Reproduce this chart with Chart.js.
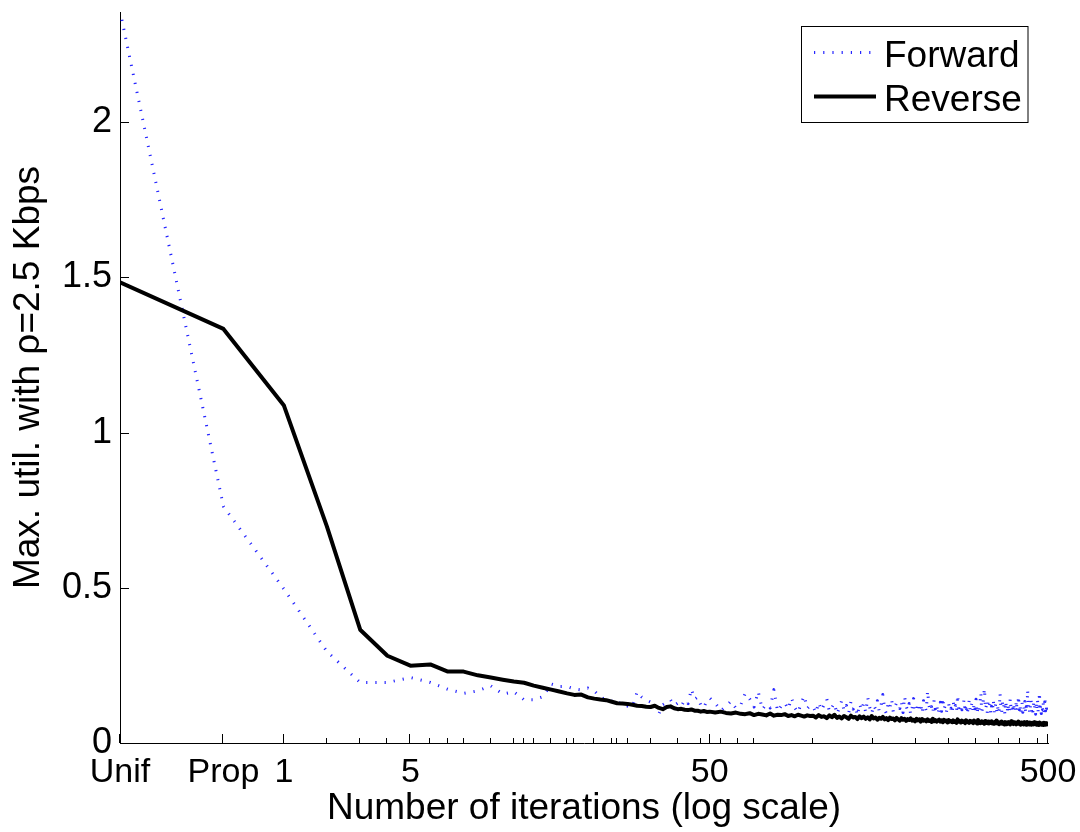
<!DOCTYPE html>
<html>
<head>
<meta charset="utf-8">
<script src="https://cdn.jsdelivr.net/npm/chart.js@4/dist/chart.umd.min.js"></script>
<style>
  html, body { margin: 0; padding: 0; background: #fff; }
  canvas { display: block; }
</style>
</head>
<body>
<canvas id="utilChart" width="1080" height="832"></canvas>
<script>
// Iteration index: -1 = uniform start, 0 = proportional start
const iterations = [
  -1, 0,
  1, 2, 3, 4, 5, 6, 7, 8, 9, 10,
  11, 12, 13, 14, 15, 16, 17, 18, 19, 20,
  21, 22, 23, 24, 25, 26, 27, 28, 29, 30,
  31, 32, 33, 34, 35, 36, 37, 38, 39, 40,
  41, 42, 43, 44, 45, 46, 47, 48, 49, 50,
  52, 54, 56, 58, 60, 62, 64, 66, 68, 70,
  72, 74, 76, 78, 80, 82, 84, 86, 88, 90,
  92, 94, 96, 98, 100,
  102, 104, 106, 108, 110, 112, 114, 116, 118, 120,
  122, 124, 126, 128, 130, 132, 134, 136, 138, 140,
  142, 144, 146, 148, 150, 152, 154, 156, 158, 160,
  162, 164, 166, 168, 170, 172, 174, 176, 178, 180,
  182, 184, 186, 188, 190, 192, 194, 196, 198, 200,
  202, 204, 206, 208, 210, 212, 214, 216, 218, 220,
  222, 224, 226, 228, 230, 232, 234, 236, 238, 240,
  242, 244, 246, 248, 250, 252, 254, 256, 258, 260,
  262, 264, 266, 268, 270, 272, 274, 276, 278, 280,
  282, 284, 286, 288, 290, 292, 294, 296, 298, 300,
  302, 304, 306, 308, 310, 312, 314, 316, 318, 320,
  322, 324, 326, 328, 330, 332, 334, 336, 338, 340,
  342, 344, 346, 348, 350, 352, 354, 356, 358, 360,
  362, 364, 366, 368, 370, 372, 374, 376, 378, 380,
  382, 384, 386, 388, 390, 392, 394, 396, 398, 400,
  402, 404, 406, 408, 410, 412, 414, 416, 418, 420,
  422, 424, 426, 428, 430, 432, 434, 436, 438, 440,
  442, 444, 446, 448, 450, 452, 454, 456, 458, 460,
  462, 464, 466, 468, 470, 472, 474, 476, 478, 480,
  482, 484, 486, 488, 490, 492, 494, 496, 498, 500
];

const forward = [
  2.359, 0.762,
  0.496, 0.295, 0.195, 0.195, 0.211, 0.195, 0.173, 0.160, 0.168, 0.184,
  0.158, 0.165, 0.139, 0.139, 0.149, 0.190, 0.182, 0.182, 0.174, 0.171,
  0.177, 0.168, 0.148, 0.139, 0.135, 0.126, 0.132, 0.119, 0.116, 0.165,
  0.148, 0.139, 0.132, 0.129, 0.094, 0.123, 0.131, 0.139, 0.121, 0.129,
  0.118, 0.139, 0.127, 0.174, 0.141, 0.148, 0.122, 0.113, 0.136, 0.145,
  0.128, 0.104, 0.118, 0.135, 0.112, 0.121, 0.160, 0.142, 0.116, 0.166,
  0.108, 0.125, 0.113, 0.172, 0.102, 0.119, 0.130, 0.109, 0.145, 0.114,
  0.098, 0.127, 0.152, 0.111, 0.121,
  0.118, 0.097, 0.131, 0.105, 0.124, 0.142, 0.101, 0.115, 0.128, 0.093,
  0.112, 0.137, 0.104, 0.121, 0.096, 0.133, 0.109, 0.119, 0.088, 0.126,
  0.106, 0.128, 0.099, 0.147, 0.115, 0.094, 0.122, 0.110, 0.136, 0.102,
  0.121, 0.156, 0.108, 0.095, 0.127, 0.113, 0.141, 0.100, 0.117, 0.130,
  0.126, 0.111, 0.134, 0.098, 0.150, 0.119, 0.105, 0.127, 0.092, 0.114,
  0.143, 0.113, 0.100, 0.129, 0.108, 0.122, 0.095, 0.136, 0.117, 0.104,
  0.168, 0.122, 0.104, 0.117, 0.096, 0.138, 0.110, 0.125, 0.093, 0.114,
  0.131, 0.102, 0.146, 0.108, 0.120, 0.099, 0.116, 0.127, 0.104, 0.112,
  0.095, 0.133, 0.109, 0.121, 0.101, 0.155, 0.113, 0.097, 0.124, 0.107,
  0.118, 0.140, 0.100, 0.126, 0.092, 0.115, 0.137, 0.103, 0.119, 0.131,
  0.098, 0.128, 0.110, 0.141, 0.094, 0.117, 0.105, 0.124, 0.162, 0.101,
  0.113, 0.150, 0.176, 0.108, 0.120, 0.096, 0.132, 0.115, 0.127, 0.094,
  0.118, 0.104, 0.139, 0.097, 0.112, 0.128, 0.102, 0.121, 0.095, 0.108,
  0.160, 0.116, 0.099, 0.130, 0.109, 0.123, 0.092, 0.135, 0.112, 0.101,
  0.126, 0.097, 0.118, 0.144, 0.105, 0.114, 0.096, 0.129, 0.110, 0.121,
  0.103, 0.138, 0.100, 0.116, 0.152, 0.107, 0.125, 0.093, 0.113, 0.130,
  0.099, 0.121, 0.108, 0.134, 0.096, 0.117, 0.104, 0.171, 0.112, 0.126,
  0.095, 0.119, 0.140, 0.102, 0.115, 0.098, 0.128, 0.109, 0.120, 0.093,
  0.124, 0.106, 0.139, 0.097, 0.112, 0.163, 0.102, 0.121, 0.095, 0.116,
  0.108, 0.131, 0.099, 0.117, 0.148, 0.104, 0.122, 0.096, 0.113, 0.110
];

const reverse = [
  1.484, 1.334,
  1.087, 0.698, 0.365, 0.281, 0.249, 0.253, 0.230, 0.230, 0.218, 0.211,
  0.204, 0.198, 0.194, 0.185, 0.178, 0.172, 0.166, 0.160, 0.155, 0.156,
  0.147, 0.143, 0.140, 0.138, 0.133, 0.128, 0.127, 0.126, 0.123, 0.120,
  0.119, 0.117, 0.116, 0.120, 0.113, 0.109, 0.116, 0.118, 0.112, 0.109,
  0.110, 0.107, 0.106, 0.108, 0.104, 0.104, 0.101, 0.103, 0.100, 0.101,
  0.098, 0.101, 0.097, 0.095, 0.098, 0.094, 0.093, 0.096, 0.090, 0.094,
  0.092, 0.089, 0.095, 0.088, 0.091, 0.090, 0.093, 0.087, 0.090, 0.086,
  0.091, 0.088, 0.085, 0.089, 0.087,
  0.088, 0.082, 0.090, 0.084, 0.086, 0.080, 0.089, 0.083, 0.091, 0.081,
  0.085, 0.079, 0.087, 0.083, 0.078, 0.088, 0.082, 0.084, 0.077, 0.086,
  0.080, 0.085, 0.078, 0.083, 0.076, 0.087, 0.079, 0.082, 0.075, 0.081,
  0.078, 0.084, 0.076, 0.080, 0.074, 0.082, 0.077, 0.079, 0.073, 0.081,
  0.076, 0.072, 0.080, 0.075, 0.078, 0.071, 0.077, 0.074, 0.079, 0.072,
  0.075, 0.070, 0.078, 0.073, 0.076, 0.069, 0.077, 0.072, 0.074, 0.070,
  0.076, 0.071, 0.073, 0.068, 0.078, 0.070, 0.074, 0.069, 0.072, 0.075,
  0.069, 0.073, 0.067, 0.075, 0.070, 0.072, 0.066, 0.074, 0.069, 0.071,
  0.067, 0.073, 0.068, 0.070, 0.065, 0.076, 0.069, 0.071, 0.066, 0.072,
  0.068, 0.070, 0.064, 0.073, 0.067, 0.069, 0.065, 0.071, 0.067, 0.070,
  0.064, 0.072, 0.066, 0.068, 0.063, 0.074, 0.066, 0.069, 0.064, 0.070,
  0.065, 0.068, 0.062, 0.071, 0.066, 0.064, 0.069, 0.063, 0.067, 0.065,
  0.070, 0.063, 0.066, 0.062, 0.068, 0.064, 0.072, 0.063, 0.067, 0.061,
  0.066, 0.063, 0.069, 0.062, 0.065, 0.060, 0.068, 0.064, 0.066, 0.061,
  0.067, 0.062, 0.065, 0.060, 0.070, 0.063, 0.065, 0.061, 0.067, 0.062,
  0.064, 0.060, 0.066, 0.062, 0.069, 0.061, 0.064, 0.059, 0.066, 0.062,
  0.063, 0.060, 0.067, 0.061, 0.064, 0.059, 0.068, 0.062, 0.063, 0.060,
  0.066, 0.061, 0.064, 0.059, 0.065, 0.062, 0.060, 0.067, 0.061, 0.063,
  0.059, 0.065, 0.061, 0.063, 0.058, 0.066, 0.061, 0.063, 0.059, 0.064,
  0.061, 0.058, 0.065, 0.060, 0.062, 0.059, 0.064, 0.060, 0.062, 0.061
];

// Labelled x ticks (iteration numbers) and their text
const xTickIters = [-1, 0, 1, 5, 50, 500];
const xTickLabels = ['Unif', 'Prop', '1', '5', '50', '500'];
// Unlabelled minor tick marks along the x axis
const xMinorIters = [2, 3, 4, 6, 7, 8, 10, 12, 13, 14, 16, 18, 19, 22, 25, 26, 28, 33, 40, 47,
  54, 61, 68, 102, 153, 205, 256, 308, 360, 414, 466];
const yTicks = [0, 0.5, 1, 1.5, 2];

// log axis is log10(iteration + 2) so that Unif sits at the origin
const OFFSET = 2;
const toPoints = vals => iterations.map((n, i) => ({ x: n + OFFSET, y: vals[i] }));

Chart.defaults.font.family = '"Liberation Sans", Arial, Helvetica, sans-serif';
Chart.defaults.color = '#000';

const innerTicks = {
  id: 'innerTicks',
  afterDatasetsDraw(chart) {
    const { ctx, chartArea: a, scales: { x, y } } = chart;
    ctx.save();
    ctx.strokeStyle = '#000';
    ctx.lineWidth = 1;
    ctx.beginPath();
    xTickIters.forEach(n => {
      const px = Math.round(x.getPixelForValue(n + OFFSET)) - 0.5;
      ctx.moveTo(px, a.bottom);
      ctx.lineTo(px, a.bottom - 9);
    });
    xMinorIters.forEach(n => {
      const px = Math.round(x.getPixelForValue(n + OFFSET)) - 0.5;
      ctx.moveTo(px, a.bottom);
      ctx.lineTo(px, a.bottom - 5);
    });
    yTicks.forEach(v => {
      const py = Math.round(y.getPixelForValue(v)) + 0.5;
      ctx.moveTo(a.left, py);
      ctx.lineTo(a.left + 9, py);
    });
    ctx.stroke();
    ctx.restore();
  }
};

// boxed legend in the top-right corner
const boxLegend = {
  id: 'boxLegend',
  afterDraw(chart) {
    const ctx = chart.ctx;
    const left = 801.5, top = 26.5, w = 226.5, h = 96;
    ctx.save();
    ctx.fillStyle = '#fff';
    ctx.fillRect(left, top, w, h);
    ctx.strokeStyle = '#000';
    ctx.lineWidth = 1;
    ctx.strokeRect(left, top, w, h);
    const rows = [52.5, 96.5];
    chart.data.datasets.forEach((ds, i) => {
      const yy = rows[i];
      ctx.save();
      ctx.strokeStyle = ds.borderColor;
      ctx.lineWidth = ds.borderWidth;
      ctx.setLineDash(ds.borderDash || []);
      ctx.beginPath();
      ctx.moveTo(814, yy);
      ctx.lineTo(ds.borderDash ? 872 : 876, yy);
      ctx.stroke();
      ctx.restore();
      ctx.fillStyle = '#000';
      ctx.font = '37px "Liberation Sans", Arial, sans-serif';
      ctx.textBaseline = 'alphabetic';
      ctx.fillText(ds.label, 884, yy + 14.5);
    });
    ctx.restore();
  }
};

new Chart(document.getElementById('utilChart').getContext('2d'), {
  type: 'line',
  data: {
    datasets: [{
      label: 'Forward',
      data: toPoints(forward),
      borderColor: 'rgba(0,0,255,0.85)',
      borderWidth: 3,
      borderDash: [1.2, 8],
      borderCapStyle: 'butt',
      borderJoinStyle: 'round',
      pointRadius: 0,
      tension: 0,
      fill: false,
      order: 1
    }, {
      label: 'Reverse',
      data: toPoints(reverse),
      borderColor: '#000',
      borderWidth: 4,
      borderJoinStyle: 'round',
      pointRadius: 0,
      tension: 0,
      fill: false,
      order: 0
    }]
  },
  options: {
    responsive: false,
    devicePixelRatio: 1,
    animation: false,
    layout: { padding: { top: 12, right: 32, left: 0, bottom: 0 } },
    plugins: { legend: { display: false }, tooltip: { enabled: false } },
    scales: {
      x: {
        type: 'logarithmic',
        min: 1,
        max: 500 + OFFSET,
        bounds: 'data',
        grid: { display: false, drawTicks: false },
        border: { display: true, color: '#000', width: 1 },
        afterBuildTicks: s => { s.ticks = xTickIters.map(n => ({ value: n + OFFSET })); },
        afterFit: s => { s.height = 89; s.paddingLeft = 0; s.paddingRight = 0; },
        ticks: {
          autoSkip: false,
          maxRotation: 0,
          minRotation: 0,
          padding: 9,
          font: { size: 34 },
          callback: v => xTickLabels[xTickIters.indexOf(Math.round(v) - OFFSET)]
        },
        title: {
          display: true,
          text: 'Number of iterations (log scale)',
          font: { size: 37 },
          padding: { top: 0, bottom: 1 }
        }
      },
      y: {
        min: 0,
        max: 2.355,
        bounds: 'data',
        grid: { display: false, drawTicks: false },
        border: { display: true, color: '#000', width: 1 },
        afterBuildTicks: s => { s.ticks = yTicks.map(v => ({ value: v })); },
        afterFit: s => { s.width = 120; s.paddingTop = 0; s.paddingBottom = 0; },
        ticks: {
          padding: 8,
          font: { size: 36 },
          callback: v => String(v)
        },
        title: {
          display: true,
          text: 'Max. util. with ρ=2.5 Kbps',
          font: { size: 37 },
          padding: { top: 7, bottom: 0 }
        }
      }
    }
  },
  plugins: [innerTicks, boxLegend]
});
</script>
</body>
</html>
